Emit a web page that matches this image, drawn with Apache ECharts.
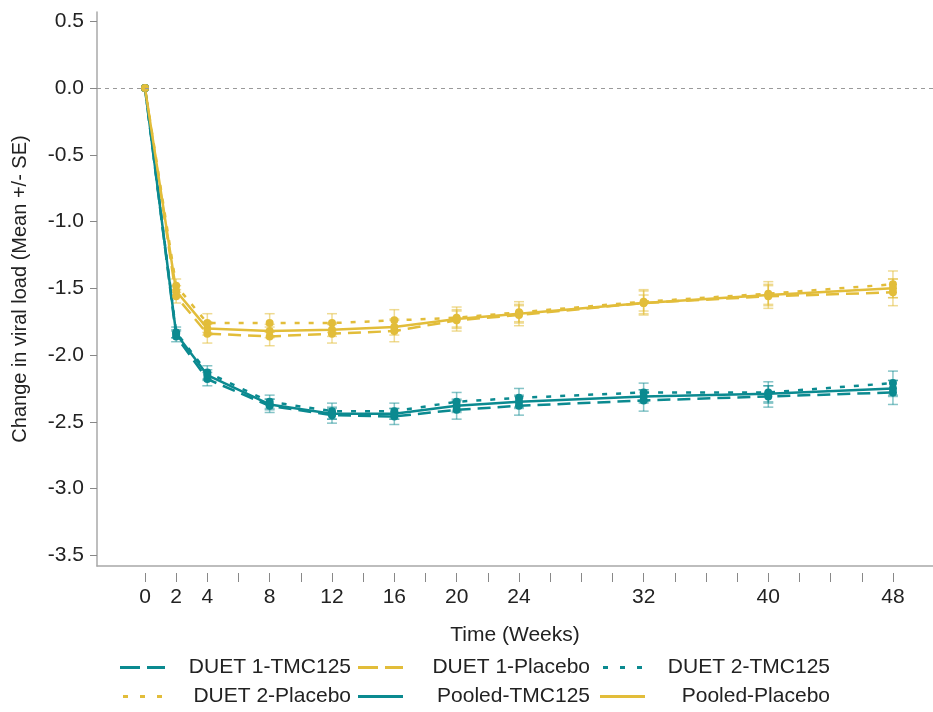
<!DOCTYPE html>
<html>
<head>
<meta charset="utf-8">
<script src="https://cdn.jsdelivr.net/npm/echarts@6/dist/echarts.min.js"></script>
<style>
html,body{margin:0;padding:0;background:#fff;}
#chart{width:933px;height:712px;}
</style>
</head>
<body>
<div id="chart"></div>
<script>
// ---- data ----
var weeks = [0, 2, 4, 8, 12, 16, 20, 24, 32, 40, 48];
var xTickLabels = [0, 2, 4, 8, 12, 16, 20, 24, 32, 40, 48];
var yTickLabels = [-3.5, -3.0, -2.5, -2.0, -1.5, -1.0, -0.5, 0.0, 0.5];

var duet1Tmc   = [0, -1.86, -2.18, -2.38, -2.45, -2.46, -2.41, -2.38, -2.34, -2.31, -2.28];
var duet2Tmc   = [0, -1.83, -2.13, -2.35, -2.42, -2.42, -2.35, -2.32, -2.28, -2.28, -2.21];
var pooledTmc  = [0, -1.84, -2.15, -2.37, -2.44, -2.44, -2.38, -2.35, -2.31, -2.29, -2.25];
var duet1Pla   = [0, -1.56, -1.84, -1.86, -1.84, -1.82, -1.74, -1.70, -1.61, -1.56, -1.53];
var duet2Pla   = [0, -1.48, -1.76, -1.76, -1.76, -1.74, -1.72, -1.68, -1.60, -1.54, -1.47];
var pooledPla  = [0, -1.52, -1.80, -1.82, -1.81, -1.79, -1.73, -1.69, -1.61, -1.55, -1.50];

var seDuet1Tmc  = [0, 0.04, 0.05, 0.05, 0.06, 0.06, 0.07, 0.07, 0.08, 0.08, 0.09];
var seDuet2Tmc  = [0, 0.04, 0.05, 0.05, 0.06, 0.06, 0.07, 0.07, 0.07, 0.08, 0.09];
var sePooledTmc = [0, 0.03, 0.04, 0.04, 0.04, 0.04, 0.05, 0.05, 0.05, 0.06, 0.06];
var seDuet1Pla  = [0, 0.05, 0.07, 0.07, 0.07, 0.08, 0.08, 0.08, 0.09, 0.09, 0.10];
var seDuet2Pla  = [0, 0.05, 0.07, 0.07, 0.07, 0.08, 0.08, 0.08, 0.09, 0.09, 0.10];
var sePooledPla = [0, 0.04, 0.05, 0.05, 0.05, 0.06, 0.06, 0.06, 0.06, 0.07, 0.07];

var seriesNames = ['DUET 1-TMC125', 'DUET 1-Placebo', 'DUET 2-TMC125', 'DUET 2-Placebo', 'Pooled-TMC125', 'Pooled-Placebo'];

// ---- styles ----
var TEAL = '#0B8A90';
var GOLD = '#E2BD3A';
var TEAL_EB = 'rgba(11,138,144,0.5)';
var GOLD_EB = 'rgba(226,189,58,0.55)';
var FONT = "'Liberation Sans', Arial, sans-serif";

var defs = [
  {name: seriesNames[0], vals: duet1Tmc,  se: seDuet1Tmc,  color: TEAL, eb: TEAL_EB, dash: [13, 7]},
  {name: seriesNames[1], vals: duet1Pla,  se: seDuet1Pla,  color: GOLD, eb: GOLD_EB, dash: [13, 7]},
  {name: seriesNames[2], vals: duet2Tmc,  se: seDuet2Tmc,  color: TEAL, eb: TEAL_EB, dash: [5, 9]},
  {name: seriesNames[3], vals: duet2Pla,  se: seDuet2Pla,  color: GOLD, eb: GOLD_EB, dash: [5, 9]},
  {name: seriesNames[4], vals: pooledTmc, se: sePooledTmc, color: TEAL, eb: TEAL_EB, dash: 'solid'},
  {name: seriesNames[5], vals: pooledPla, se: sePooledPla, color: GOLD, eb: GOLD_EB, dash: 'solid'}
];

var ICON_DASH  = 'path://M0,0H20V3H0Z M27,0H45V3H27Z';
var ICON_DOT   = 'path://M0,0H5V3H0Z M17,0H22V3H17Z M34,0H39V3H34Z';
var ICON_SOLID = 'path://M0,0H45V3H0Z';
var icons = [ICON_DASH, ICON_DASH, ICON_DOT, ICON_DOT, ICON_SOLID, ICON_SOLID];

var series = [];
defs.forEach(function (d) {
  series.push({
    type: 'custom',
    name: d.name + ' SE',
    xAxisIndex: 0, yAxisIndex: 0,
    z: 1,
    silent: true,
    data: weeks.map(function (w, i) { return [w, d.vals[i], d.se[i]]; }),
    encode: {x: 0, y: 1},
    renderItem: (function (col) {
      return function (params, api) {
        var x = api.value(0), y = api.value(1), se = api.value(2);
        if (!se) return null;
        var lo = api.coord([x, y - se]);
        var hi = api.coord([x, y + se]);
        var cw = 5;
        var st = {stroke: col, lineWidth: 1.5};
        return {
          type: 'group',
          children: [
            {type: 'line', shape: {x1: lo[0], y1: lo[1], x2: hi[0], y2: hi[1]}, style: st},
            {type: 'line', shape: {x1: lo[0] - cw, y1: lo[1], x2: lo[0] + cw, y2: lo[1]}, style: st},
            {type: 'line', shape: {x1: hi[0] - cw, y1: hi[1], x2: hi[0] + cw, y2: hi[1]}, style: st}
          ]
        };
      };
    })(d.eb)
  });
});
defs.forEach(function (d, k) {
  var s = {
    type: 'line',
    name: d.name,
    xAxisIndex: 0, yAxisIndex: 0,
    z: 3,
    data: weeks.map(function (w, i) { return [w, d.vals[i]]; }),
    symbol: 'circle',
    symbolSize: 8,
    showSymbol: true,
    itemStyle: {color: d.color, borderWidth: 0},
    lineStyle: {color: d.color, width: 2.5, type: d.dash},
    emphasis: {disabled: true},
    animation: false
  };
  if (k === 0) {
    s.markLine = {
      silent: true,
      symbol: 'none',
      label: {show: false},
      lineStyle: {color: '#9a9a9a', type: [4, 4], width: 1.2},
      data: [{yAxis: 0}],
      animation: false
    };
  }
  series.push(s);
});

function legendCol(left, idxs, textW) {
  return {
    orient: 'vertical',
    left: left,
    top: 657,
    itemWidth: 45,
    itemHeight: 3,
    itemGap: 8,
    padding: 0,
    selectedMode: false,
    itemStyle: {borderWidth: 0},
    data: idxs.map(function (i) {
      return {name: seriesNames[i], icon: icons[i], itemStyle: {color: defs[i].color}};
    }),
    formatter: function (n) { return '{t|' + n + '}'; },
    textStyle: {
      rich: {t: {width: textW, align: 'right', fontSize: 21, lineHeight: 20, color: '#222', fontFamily: FONT}}
    }
  };
}

var option = {
  animation: false,
  backgroundColor: '#fff',
  textStyle: {fontFamily: FONT},
  grid: {left: 97, right: 0, top: 12, bottom: 146, containLabel: false, outerBoundsMode: 'none'},
  xAxis: [
    {
      type: 'value', position: 'bottom', min: -3.08, max: 50.57,
      axisLine: {show: true, onZero: false, lineStyle: {color: '#a8a8a8', width: 1.5}},
      axisTick: {show: false}, axisLabel: {show: false}, splitLine: {show: false}
    },
    {
      type: 'value', position: 'bottom', offset: 7, min: -3.08, max: 50.57,
      name: 'Time (Weeks)', nameLocation: 'middle', nameGap: 52,
      nameTextStyle: {fontSize: 21, color: '#222', fontFamily: FONT},
      axisLine: {show: false, onZero: false},
      axisTick: {show: true, length: 9, lineStyle: {color: '#888', width: 1},
                 customValues: weeks.concat([6, 10, 14, 18, 22, 26, 28, 30, 34, 36, 38, 42, 44, 46])},
      axisLabel: {show: true, customValues: xTickLabels, margin: 14, fontSize: 21, color: '#222', fontFamily: FONT},
      splitLine: {show: false}
    }
  ],
  yAxis: {
    type: 'value', min: -3.58, max: 0.57,
    name: 'Change in viral load (Mean +/- SE)', nameLocation: 'middle', nameGap: 67,
    nameTextStyle: {fontSize: 20, color: '#222', fontFamily: FONT},
    axisLine: {show: true, onZero: false, lineStyle: {color: '#a8a8a8', width: 1.5}},
    axisTick: {show: true, length: 7, lineStyle: {color: '#888'}, customValues: yTickLabels},
    axisLabel: {show: true, customValues: yTickLabels, margin: 13, fontSize: 21, color: '#222', fontFamily: FONT,
                formatter: function (v) { return (Math.round(v * 10) / 10).toFixed(1); }},
    splitLine: {show: false}
  },
  legend: [
    legendCol(120, [0, 3], 181),
    legendCol(358, [1, 4], 182),
    legendCol(600, [2, 5], 180)
  ],
  series: series
};

var chart = echarts.init(document.getElementById('chart'), null, {renderer: 'canvas'});
chart.setOption(option);
</script>
</body>
</html>
